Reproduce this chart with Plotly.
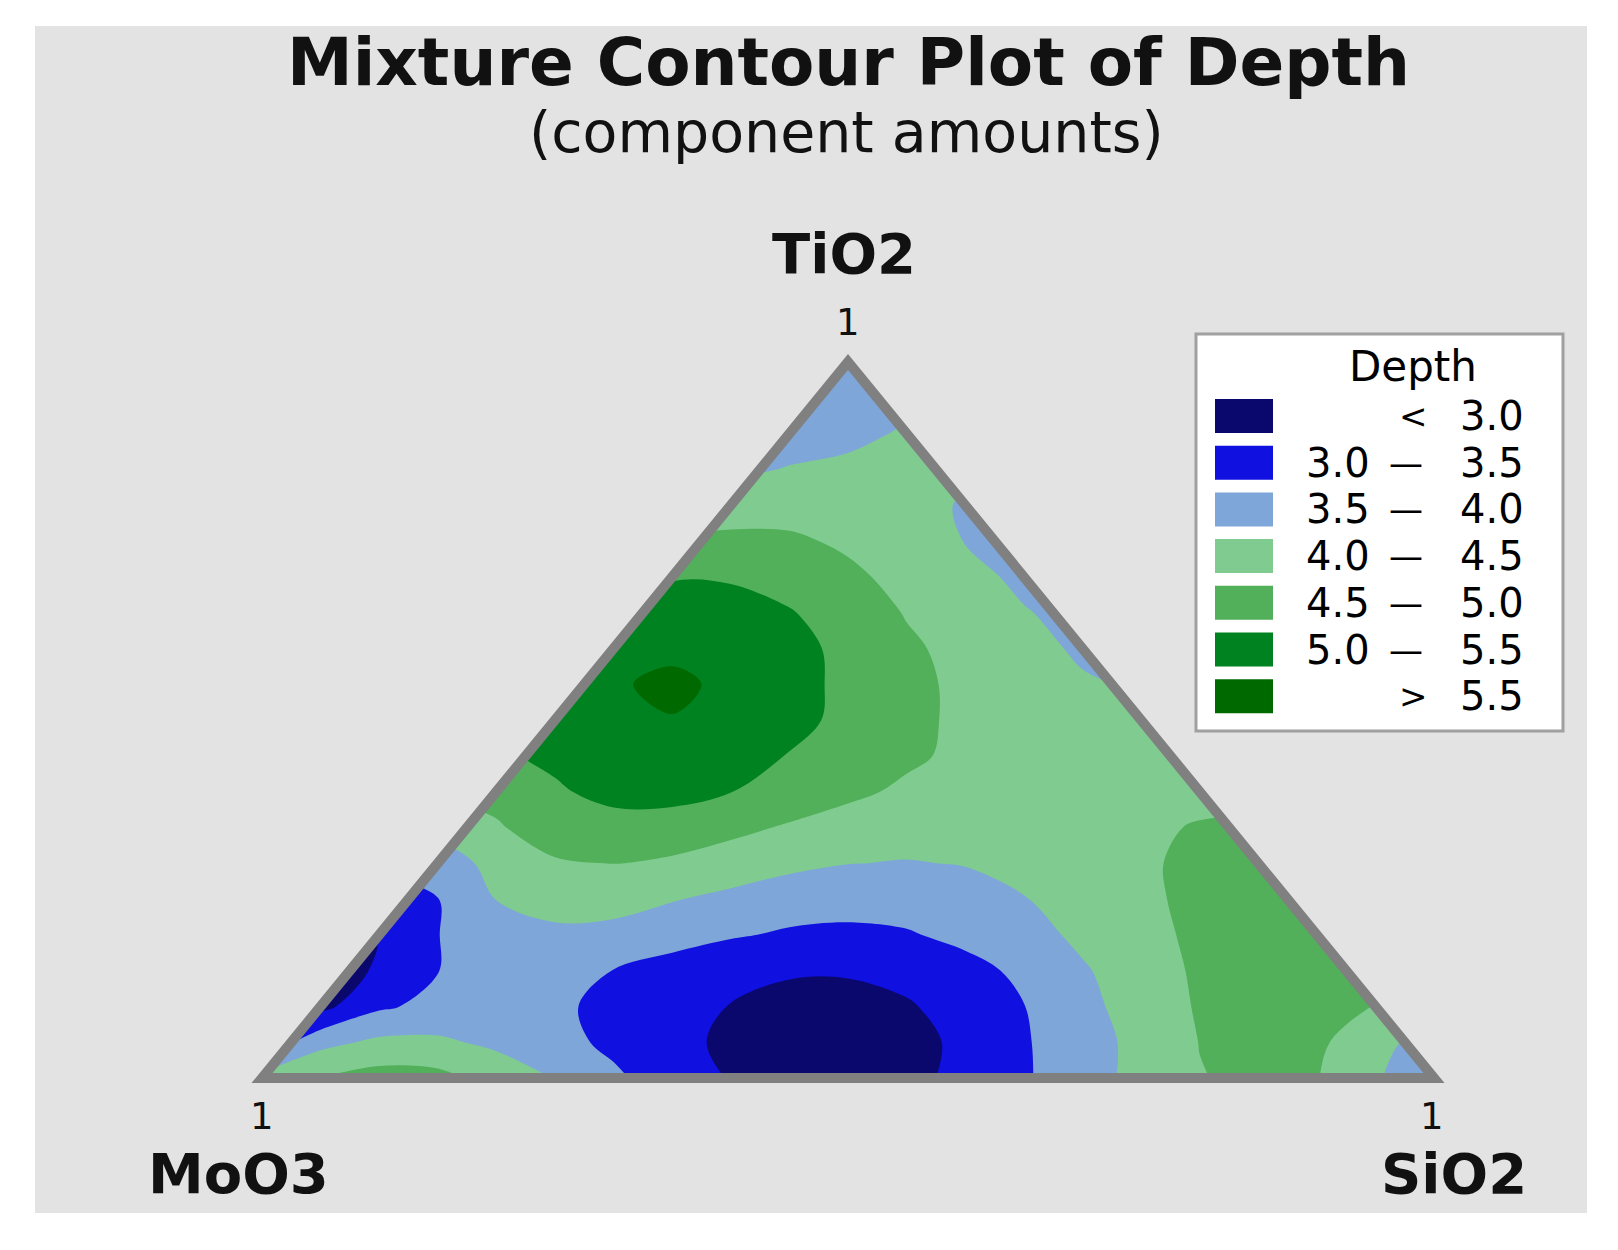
import plotly.graph_objects as go

# grid of the mixture triangle: x = fraction along the base (MoO3 -> SiO2),
# y = fraction of the height (0 = base, 1 = TiO2 corner)
x_frac = [0.0, 0.05, 0.1, 0.15, 0.2, 0.25, 0.3, 0.35, 0.4, 0.45, 0.5,
          0.55, 0.6, 0.65, 0.7, 0.75, 0.8, 0.85, 0.9, 0.95, 1.0]
y_frac = [0.0, 0.05, 0.1, 0.15, 0.2, 0.25, 0.3, 0.35, 0.4, 0.45, 0.5,
          0.55, 0.6, 0.65, 0.7, 0.75, 0.8, 0.85, 0.9, 0.95, 1.0]

# Depth, one row per height (points outside the
# triangle are only there so the edges close cleanly; they get masked)
depth_y00 = [4.15, 4.51, 4.70, 4.65, 4.30, 3.98, 3.58, 3.26, 2.97, 2.80, 2.76, 2.88, 3.12, 3.44, 3.81, 4.14, 4.48, 4.60, 4.52, 4.10, 3.30]
depth_y05 = [3.10, 3.85, 4.10, 4.08, 3.90, 3.65, 3.40, 3.10, 2.93, 2.80, 2.78, 2.88, 3.08, 3.45, 3.82, 4.12, 4.51, 4.65, 4.60, 4.15, 3.80]
depth_y10 = [2.55, 2.85, 3.42, 3.65, 3.75, 3.60, 3.35, 3.10, 2.99, 2.85, 2.82, 2.95, 3.20, 3.49, 3.87, 4.20, 4.55, 4.70, 4.65, 4.49, 4.30]
depth_y15 = [2.40, 2.55, 3.10, 3.49, 3.75, 3.70, 3.49, 3.30, 3.12, 3.05, 3.05, 3.15, 3.35, 3.60, 3.95, 4.25, 4.58, 4.75, 4.70, 4.60, 4.52]
depth_y20 = [2.70, 2.82, 3.01, 3.49, 3.80, 3.92, 3.88, 3.70, 3.55, 3.44, 3.42, 3.46, 3.62, 3.82, 4.10, 4.35, 4.60, 4.72, 4.65, 4.55, 4.45]
depth_y25 = [3.10, 3.20, 3.30, 3.49, 4.01, 4.15, 4.15, 4.03, 3.88, 3.72, 3.65, 3.70, 3.82, 3.98, 4.20, 4.42, 4.60, 4.65, 4.60, 4.55, 4.52]
depth_y30 = [3.30, 3.45, 3.60, 3.75, 4.15, 4.45, 4.51, 4.42, 4.28, 4.12, 4.01, 3.98, 4.02, 4.15, 4.30, 4.45, 4.58, 4.60, 4.55, 4.52, 4.45]
depth_y35 = [3.70, 3.85, 4.00, 4.15, 4.45, 4.75, 4.85, 4.80, 4.62, 4.45, 4.30, 4.18, 4.15, 4.20, 4.30, 4.45, 4.52, 4.52, 4.48, 4.48, 4.48]
depth_y40 = [4.10, 4.25, 4.40, 4.55, 4.65, 4.95, 5.12, 5.15, 5.01, 4.80, 4.60, 4.42, 4.30, 4.22, 4.22, 4.30, 4.42, 4.45, 4.45, 4.45, 4.45]
depth_y45 = [4.40, 4.55, 4.70, 4.85, 4.95, 5.08, 5.30, 5.35, 5.22, 4.98, 4.80, 4.58, 4.40, 4.30, 4.25, 4.25, 4.20, 4.20, 4.20, 4.20, 4.20]
depth_y50 = [4.60, 4.75, 4.90, 4.99, 5.08, 5.18, 5.42, 5.48, 5.35, 5.12, 4.90, 4.60, 4.42, 4.28, 4.18, 4.08, 4.01, 3.95, 3.95, 3.95, 3.95]
depth_y55 = [4.70, 4.80, 4.90, 4.99, 5.08, 5.15, 5.45, 5.60, 5.40, 5.15, 4.90, 4.62, 4.40, 4.20, 4.05, 3.95, 3.90, 3.90, 3.90, 3.90, 3.90]
depth_y60 = [4.70, 4.80, 4.90, 4.99, 5.05, 5.10, 5.22, 5.40, 5.35, 5.15, 4.88, 4.58, 4.35, 4.15, 3.93, 3.85, 3.85, 3.85, 3.85, 3.85, 3.85]
depth_y65 = [4.70, 4.75, 4.80, 4.85, 4.90, 4.95, 4.99, 5.20, 5.20, 5.03, 4.78, 4.47, 4.20, 4.02, 3.90, 3.85, 3.85, 3.85, 3.85, 3.85, 3.85]
depth_y70 = [4.52, 4.55, 4.60, 4.65, 4.70, 4.80, 4.90, 4.97, 4.95, 4.82, 4.60, 4.35, 4.10, 3.93, 3.85, 3.85, 3.85, 3.85, 3.85, 3.85, 3.85]
depth_y75 = [4.30, 4.35, 4.40, 4.45, 4.48, 4.49, 4.52, 4.55, 4.62, 4.58, 4.42, 4.20, 3.99, 3.85, 3.85, 3.85, 3.85, 3.85, 3.85, 3.85, 3.85]
depth_y80 = [4.10, 4.12, 4.14, 4.16, 4.18, 4.20, 4.22, 4.24, 4.25, 4.30, 4.25, 4.15, 3.96, 3.85, 3.85, 3.85, 3.85, 3.85, 3.85, 3.85, 3.85]
depth_y85 = [3.90, 3.90, 3.90, 3.90, 3.90, 3.90, 3.90, 3.90, 3.93, 4.02, 4.06, 4.10, 4.10, 4.10, 4.10, 4.10, 4.10, 4.10, 4.10, 4.10, 4.10]
depth_y90 = [3.80, 3.80, 3.80, 3.80, 3.80, 3.80, 3.80, 3.80, 3.80, 3.85, 3.93, 4.03, 4.05, 4.05, 4.05, 4.05, 4.05, 4.05, 4.05, 4.05, 4.05]
depth_y95 = [3.75, 3.75, 3.75, 3.75, 3.75, 3.75, 3.75, 3.75, 3.75, 3.75, 3.82, 3.92, 3.92, 3.92, 3.92, 3.92, 3.92, 3.92, 3.92, 3.92, 3.92]
depth_y100 = [3.70, 3.70, 3.70, 3.70, 3.70, 3.70, 3.70, 3.70, 3.70, 3.70, 3.72, 3.70, 3.70, 3.70, 3.70, 3.70, 3.70, 3.70, 3.70, 3.70, 3.70]

depth = [depth_y00, depth_y05, depth_y10, depth_y15, depth_y20, depth_y25, depth_y30,
         depth_y35, depth_y40, depth_y45, depth_y50, depth_y55, depth_y60, depth_y65,
         depth_y70, depth_y75, depth_y80, depth_y85, depth_y90, depth_y95, depth_y100]

# legend bands
band_colors = ['#0a086c', '#1010e0', '#7ea6d8', '#80cc90', '#52b05a', '#008220', '#006a00']
band_low = ['', '3.0', '3.5', '4.0', '4.5', '5.0', '']
band_sign = ['<', '—', '—', '—', '—', '—', '>']
band_high = ['3.0', '3.5', '4.0', '4.5', '5.0', '5.5', '5.5']

bg = '#e3e3e3'
edge_col = '#808080'
font_fam = 'DejaVu Sans'

# positions below are page pixels; the page body adds an 8px offset
W, H = 1618, 1250
OFF = 8
GRAY_L, GRAY_R, GRAY_T, GRAY_B = 35, 1587, 26, 1213
X0_PX, X1_PX = 262, 1434
Y0_PX, Y1_PX = 1078, 362


def fx(px):
    return (px - X0_PX) / (X1_PX - X0_PX)


def fy(py):
    return (Y0_PX - py) / (Y0_PX - Y1_PX)


fig = go.Figure()
fig.add_trace(go.Contour(
    x=x_frac, y=y_frac, z=depth,
    autocontour=False,
    contours=dict(start=3.0, end=5.5, size=0.5, coloring='fill', showlines=False),
    colorscale=[[k / 6, c] for k, c in enumerate(band_colors)],
    line=dict(width=0, smoothing=1.0),
    showscale=False, hoverinfo='skip'))

shapes = []
# hide the grid outside the triangle
shapes.append(dict(type='path', path='M -0.05,0 L 0,0 L 0.5,1 L 0.5,1.05 L -0.05,1.05 Z',
                   fillcolor=bg, line=dict(width=0)))
shapes.append(dict(type='path', path='M 1.05,0 L 1,0 L 0.5,1 L 0.5,1.05 L 1.05,1.05 Z',
                   fillcolor=bg, line=dict(width=0)))
# triangle outline
shapes.append(dict(type='path', path='M 0,0 L 1,0 L 0.5,1 Z',
                   fillcolor='rgba(0,0,0,0)', line=dict(color=edge_col, width=10)))

# legend box
shapes.append(dict(type='rect', x0=fx(1196), x1=fx(1563), y0=fy(731), y1=fy(334),
                   fillcolor='white', line=dict(color='#a0a0a0', width=3)))

annotations = []
lf = dict(family=font_fam, size=40, color='black')
for k, c in enumerate(band_colors):
    yc = 416 + 46.7 * k
    shapes.append(dict(type='rect', x0=fx(1215), x1=fx(1273), y0=fy(yc + 17), y1=fy(yc - 17),
                       fillcolor=c, line=dict(width=0)))
    if band_low[k]:
        annotations.append(dict(x=fx(1372), y=fy(yc), text=band_low[k], xanchor='right',
                                yanchor='middle', showarrow=False, font=lf))
    sx = 1406 if band_sign[k] == '—' else 1413
    annotations.append(dict(x=fx(sx), y=fy(yc), text=band_sign[k], xanchor='center',
                            yanchor='middle', showarrow=False,
                            font=dict(family=font_fam, size=34, color='black')))
    annotations.append(dict(x=fx(1526), y=fy(yc), text=band_high[k], xanchor='right',
                            yanchor='middle', showarrow=False, font=lf))

annotations.append(dict(x=fx(1413), y=fy(366), text='Depth', showarrow=False,
                        font=dict(family=font_fam, size=42, color='black')))

# titles
annotations.append(dict(x=fx(848), y=fy(62), text='Mixture Contour Plot of Depth', showarrow=False,
                        font=dict(family=font_fam, size=66, color='#111111', weight='bold')))
annotations.append(dict(x=fx(846), y=fy(132), text='(component amounts)', showarrow=False,
                        font=dict(family=font_fam, size=57, color='#111111')))

# corner labels
lab = dict(family=font_fam, size=56, color='#111111', weight='bold')
one = dict(family=font_fam, size=37, color='#111111')
annotations.append(dict(x=fx(844), y=fy(253), text='TiO2', showarrow=False, font=lab))
annotations.append(dict(x=fx(238), y=fy(1173), text='MoO3', showarrow=False, font=lab))
annotations.append(dict(x=fx(1454), y=fy(1173), text='SiO2', showarrow=False, font=lab))
annotations.append(dict(x=fx(848), y=fy(322), text='1', showarrow=False, font=one))
annotations.append(dict(x=fx(262), y=fy(1116), text='1', showarrow=False, font=one))
annotations.append(dict(x=fx(1432), y=fy(1116), text='1', showarrow=False, font=one))

fig.update_layout(
    width=W, height=H,
    margin=dict(l=GRAY_L - OFF, r=W - (GRAY_R - OFF), t=GRAY_T - OFF, b=H - (GRAY_B - OFF), pad=0),
    paper_bgcolor='white', plot_bgcolor=bg,
    xaxis=dict(range=[fx(GRAY_L), fx(GRAY_R)], visible=False, fixedrange=True),
    yaxis=dict(range=[fy(GRAY_B), fy(GRAY_T)], visible=False, fixedrange=True),
    shapes=shapes, annotations=annotations,
    showlegend=False)

fig.write_html("out.html")
